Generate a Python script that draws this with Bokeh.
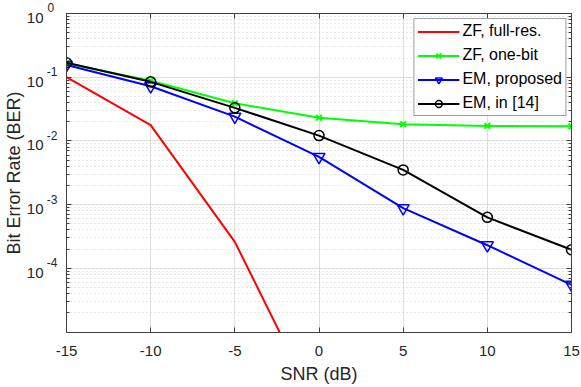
from bokeh.plotting import figure
from bokeh.models import (FixedTicker, LogAxis, LinearAxis, Range1d, CustomJSTickFormatter)
from bokeh.embed import file_html
from bokeh.resources import INLINE

# ---- data ----
snr = [-15, -10, -5, 0, 5, 10, 15]
snr_zf_full = [-15, -10, -5, 0]
ber_zf_full = [0.1, 0.0177, 2.6e-4, 5.6e-7]
ber_zf_onebit = [0.166, 0.088, 0.039, 0.023, 0.0183, 0.0172, 0.0169]
ber_em_proposed = [0.155, 0.072, 0.024, 0.0056, 8.8e-4, 2.3e-4, 5.5e-5]
ber_em_ref14 = [0.168, 0.0845, 0.033, 0.0121, 0.0035, 6.3e-4, 1.95e-4]

x_ticks = [-15, -10, -5, 0, 5, 10, 15]
x_tick_labels = ["-15", "-10", "-5", "0", "5", "10", "15"]
y_ticks = [1e-4, 1e-3, 1e-2, 1e-1, 1.0]
y_tick_base = ["10", "10", "10", "10", "10"]
y_tick_exp = ["-4", "-3", "-2", "-1", "0"]
y_minor = [k * 10.0 ** d for d in range(-5, 0) for k in range(2, 10)]

FONT = "Liberation Sans"
AX = "#404040"
TXT = "#262626"
NB = "\u00a0"

p = figure(frame_width=505, frame_height=319, output_backend="svg", toolbar_location=None,
           y_axis_type="log", x_range=Range1d(-15, 15), y_range=Range1d(0.98e-5, 1.0),
           min_border_left=0, min_border_right=9, min_border_top=13, min_border_bottom=0)
p.outline_line_color = None
p.background_fill_color = "white"
p.border_fill_color = "white"

# grids
p.xgrid.ticker = FixedTicker(ticks=x_ticks)
p.ygrid.ticker = FixedTicker(ticks=y_ticks, minor_ticks=y_minor)
p.xgrid.grid_line_color = "#dedede"
p.ygrid.grid_line_color = "#dedede"
p.ygrid.minor_grid_line_color = "#cfcfcf"
p.ygrid.minor_grid_line_dash = "1 3"

def style_axis(ax, labels=True):
    ax.axis_line_color = AX
    ax.major_tick_line_color = AX
    ax.minor_tick_line_color = AX
    ax.major_tick_in = 5
    ax.major_tick_out = 0
    ax.minor_tick_in = 3
    ax.minor_tick_out = 0
    ax.major_label_text_font = FONT
    ax.major_label_text_color = TXT
    ax.major_label_text_font_size = "15px"
    ax.major_label_text_line_height = 1.0
    ax.axis_label_text_font = FONT
    ax.axis_label_text_font_style = "normal"
    ax.axis_label_text_color = TXT
    ax.axis_label_text_font_size = "18px"
    ax.axis_label_text_line_height = 1.0
    if not labels:
        ax.major_label_text_font_size = "0px"
        ax.major_label_standoff = 0
        ax.formatter = CustomJSTickFormatter(code="return ''")

def bare_axis(ax):
    ax.axis_line_color = None
    ax.major_tick_line_color = None
    ax.minor_tick_line_color = None
    ax.major_tick_in = 0
    ax.major_tick_out = 0
    ax.minor_tick_in = 0
    ax.minor_tick_out = 0
    ax.major_label_text_font = FONT
    ax.major_label_text_color = TXT
    ax.axis_label_text_font = FONT
    ax.axis_label_text_font_style = "normal"
    ax.axis_label_text_color = TXT
    ax.axis_label_text_font_size = "18px"
    ax.axis_label_text_line_height = 1.0

xa = p.xaxis[0]
xa.ticker = FixedTicker(ticks=x_ticks)
style_axis(xa)
xa.minor_tick_in = 0
xa.major_label_overrides = dict(zip(x_ticks, x_tick_labels))
xa.major_label_standoff = 13
xa.axis_label = "SNR (dB)"
xa.axis_label_standoff = 5

# left: frame-side axis draws the line and ticks only
ya = p.yaxis[0]
ya.ticker = FixedTicker(ticks=y_ticks, minor_ticks=y_minor)
style_axis(ya, labels=False)

# exponents (raised) then the "10" bases (lowered), stacked outward
exp_axis = LogAxis(ticker=FixedTicker(ticks=y_ticks))
bare_axis(exp_axis)
exp_axis.major_label_text_font_size = "12px"
exp_axis.major_label_text_line_height = 0.72
exp_axis.major_label_standoff = 9
exp_axis.major_label_overrides = {t: (e if e.startswith("-") else e + NB) + "\n" + NB
                                  for t, e in zip(y_ticks, y_tick_exp)}
p.add_layout(exp_axis, "left")

base_axis = LogAxis(ticker=FixedTicker(ticks=y_ticks))
bare_axis(base_axis)
base_axis.major_label_text_font_size = "15px"
base_axis.major_label_text_line_height = 0.47
base_axis.major_label_standoff = 0
base_axis.major_label_overrides = {t: NB + "\n" + b for t, b in zip(y_ticks, y_tick_base)}
base_axis.axis_label = "Bit Error Rate (BER)"
base_axis.axis_label_standoff = 0
p.add_layout(base_axis, "left")

top = LinearAxis(ticker=FixedTicker(ticks=x_ticks))
style_axis(top, labels=False)
top.minor_tick_in = 0
p.add_layout(top, "above")

right = LogAxis(ticker=FixedTicker(ticks=y_ticks, minor_ticks=y_minor))
style_axis(right, labels=False)
p.add_layout(right, "right")

# ---- series ----
p.line(snr_zf_full, ber_zf_full, line_color="#ff0000", line_width=2, legend_label="ZF, full-res.")

p.line(snr, ber_zf_onebit, line_color="#00ff00", line_width=2, legend_label="ZF, one-bit")
p.scatter(snr, ber_zf_onebit, marker="x", size=8, line_color="#00ff00", line_width=2,
          legend_label="ZF, one-bit")

p.line(snr, ber_em_proposed, line_color="#0000ff", line_width=2, legend_label="EM, proposed")
p.scatter(snr, ber_em_proposed, marker="inverted_triangle", size=12, fill_color=None,
          line_color="#0000ff", line_width=1.5, legend_label="EM, proposed")

p.line(snr, ber_em_ref14, line_color="#000000", line_width=2, legend_label="EM, in [14]")
p.scatter(snr, ber_em_ref14, marker="circle", size=10, fill_color=None,
          line_color="#000000", line_width=1.5, legend_label="EM, in [14]")

lg = p.legend[0]
lg.location = "top_right"
lg.margin = 5
lg.padding = 3
lg.spacing = 6
lg.label_height = 17
lg.glyph_height = 17
lg.glyph_width = 42
lg.label_standoff = 3
lg.label_text_font = FONT
lg.label_text_font_size = "16px"
lg.label_text_color = "#000000"
lg.border_line_color = AX
lg.border_line_width = 1
lg.background_fill_alpha = 1.0

open("out.html", "w").write(file_html(p, INLINE))
